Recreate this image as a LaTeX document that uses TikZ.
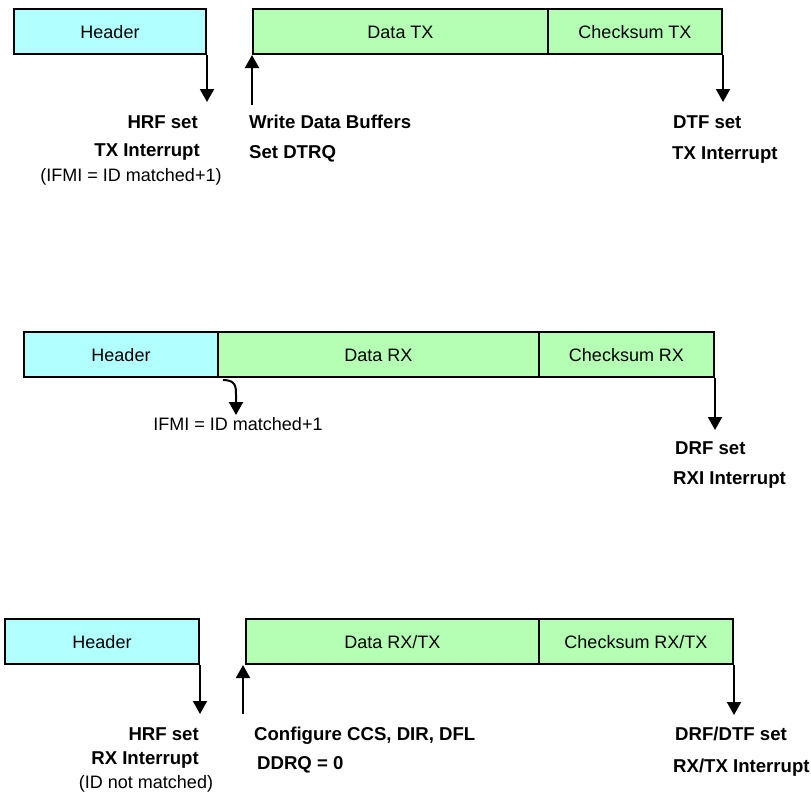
\documentclass[tikz,border=0pt]{standalone}
\usepackage{fontspec}
\setmainfont{Liberation Sans}
\usetikzlibrary{arrows.meta}
\definecolor{colHDR}{RGB}{178,255,255}
\definecolor{colDAT}{RGB}{180,255,180}

\begin{document}
\begin{tikzpicture}[x=1pt, y=-1pt,
    every node/.style={font=\fontsize{18}{22}\selectfont, inner sep=0pt, text height=13pt, text depth=0pt},
    field/.style={draw, line width=2pt, minimum height=45pt, anchor=north west},
    hdr/.style={field, fill=colHDR},
    dat/.style={field, fill=colDAT},
    sig/.style={line width=2pt, -{Triangle[width=14pt,length=13pt]}},
    lbl/.style={font=\fontsize{18.6}{22}\selectfont\bfseries}]
  \useasboundingbox (0,0) rectangle (811,795);
  % Frame 1: header, data TX, checksum TX
  \node[hdr, minimum width=192pt] (h1) at (13,8) {Header};
  \node[dat, minimum width=295pt] (d1) at (252,8) {Data TX};
  \node[dat, minimum width=174pt] (c1) at (547,8) {Checksum TX};
  \coordinate (h1e) at ([yshift=-47pt]h1.south east);
  \coordinate (d1s) at ([yshift=-50pt]d1.south west);
  \coordinate (c1e) at ([yshift=-47pt]c1.south east);
  \draw[sig] (h1.south east) -- (h1e);
  \draw[sig] (d1s) -- (d1.south west);
  \draw[sig] (c1.south east) -- (c1e);
  \node[lbl, anchor=east] (t1a) at (198,122) {HRF set};
  \node[lbl, anchor=east] (t1b) at (200,150) {TX Interrupt};
  \node (t1c) at (131,175) {(IFMI = ID matched+1)};
  \node[lbl, anchor=west] (t1d) at (249,122) {Write Data Buffers};
  \node[lbl, anchor=west] (t1e) at (249,152) {Set DTRQ};
  \node[lbl, anchor=west] (t1f) at (673,122) {DTF set};
  \node[lbl, anchor=west] (t1g) at (672,153) {TX Interrupt};
  % Frame 2: header, data RX, checksum RX
  \node[hdr, minimum width=194pt] (h2) at (23,331) {Header};
  \node[dat, minimum width=321pt] (d2) at (217,331) {Data RX};
  \node[dat, minimum width=175pt] (c2) at (538,331) {Checksum RX};
  \coordinate (m2) at ([shift={(6,2)}]d2.south west);
  \coordinate (c2e) at ([yshift=-52pt]c2.south east);
  \draw[sig] (m2) .. controls +(13,0) and +(0,-8) .. ++(13,15) -- ++(0,20);
  \draw[sig] (c2.south east) -- (c2e);
  \node (t2a) at (238,424) {IFMI = ID matched+1};
  \node[lbl, anchor=west] (t2b) at (675,448) {DRF set};
  \node[lbl, anchor=west] (t2c) at (673,478) {RXI Interrupt};
  % Frame 3: header, data RX/TX, checksum RX/TX
  \node[hdr, minimum width=194pt] (h3) at (4,618) {Header};
  \node[dat, minimum width=293pt] (d3) at (245,618) {Data RX/TX};
  \node[dat, minimum width=194pt] (c3) at (538,618) {Checksum RX/TX};
  \coordinate (h3e) at ([yshift=-49pt]h3.south east);
  \coordinate (d3s) at ([shift={(-2,49)}]d3.south west);
  \coordinate (c3e) at ([yshift=-50pt]c3.south east);
  \draw[sig] (h3.south east) -- (h3e);
  \draw[sig] (d3s) -- (d3s |- d3.south);
  \draw[sig] (c3.south east) -- (c3e);
  \node[lbl, anchor=east] (t3a) at (199,734) {HRF set};
  \node[lbl, anchor=east] (t3b) at (199,758) {RX Interrupt};
  \node (t3c) at (146,782) {(ID not matched)};
  \node[lbl, anchor=west] (t3d) at (254,734) {Configure CCS, DIR, DFL};
  \node[lbl, anchor=west] (t3e) at (257,763) {DDRQ = 0};
  \node[lbl, anchor=west] (t3f) at (675,734) {DRF/DTF set};
  \node[lbl, anchor=west] (t3g) at (673,766) {RX/TX Interrupt};
\end{tikzpicture}
\end{document}
